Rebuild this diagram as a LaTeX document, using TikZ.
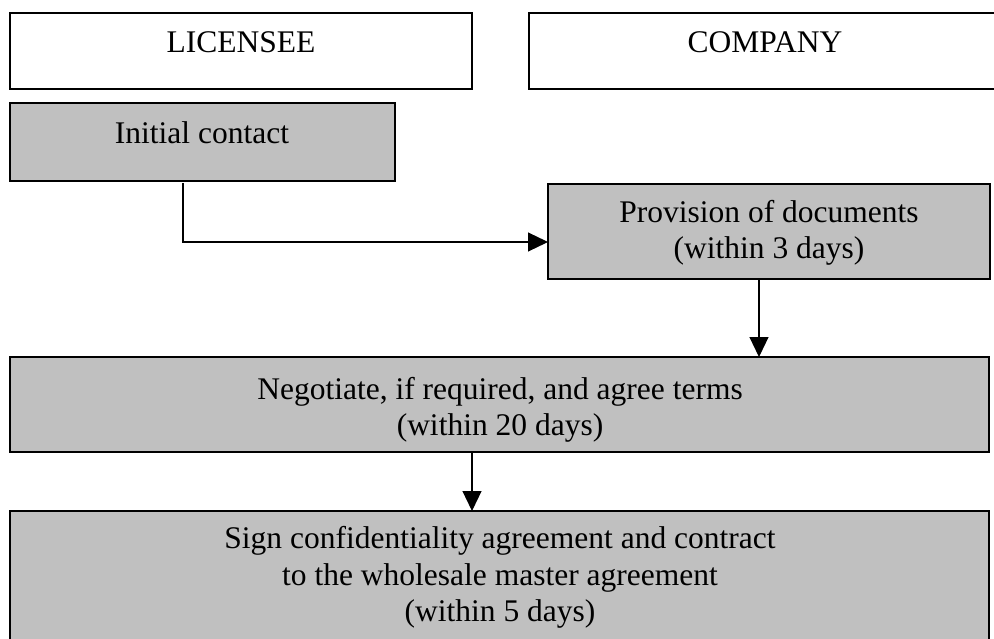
\documentclass[tikz,border=0pt]{standalone}
\usepackage{fontspec}
\setmainfont{Liberation Serif}
\usetikzlibrary{arrows.meta}
\definecolor{boxgray}{HTML}{C0C0C0}
\begin{document}
\begin{tikzpicture}[x=1pt,y=-1pt,
  box/.style={draw, line width=1.8pt, inner sep=0pt, outer sep=0pt, anchor=north west},
  gbox/.style={box, fill=boxgray},
  txt/.style={inner sep=0pt, anchor=base, font=\fontsize{31.5}{36}\selectfont},
  conn/.style={line width=1.2pt, -{Triangle[length=20pt,width=19pt]}}]
\useasboundingbox (0,0) rectangle (994,639);
\fill[white] (0,0) rectangle (994,639);
% boxes
\node[box, minimum width=462pt, minimum height=76pt] (lic) at (10,13) {};
\node[box, minimum width=472pt, minimum height=76pt] (comp) at (529,13) {};
\node[gbox, minimum width=385pt, minimum height=78pt] (ic) at (10,103) {};
\node[gbox, minimum width=442pt, minimum height=95pt] (prov) at (548,184) {};
\node[gbox, minimum width=979pt, minimum height=95pt] (neg) at (10,357) {};
\node[gbox, minimum width=979pt, minimum height=150pt] (sign) at (10,511) {};
% texts
\node[txt] (tlic) at (241,53) {LICENSEE};
\node[txt] (tcomp) at (765,53) {COMPANY};
\node[txt] (tic) at (202,144) {Initial contact};
\node[txt] (tp1) at (769,223) {Provision of documents};
\node[txt] (tp2) at (769,259) {(within 3 days)};
\node[txt] (tn1) at (500,399) {Negotiate, if required, and agree terms};
\node[txt] (tn2) at (500,435) {(within 20 days)};
\node[txt] (ts1) at (500,548) {Sign confidentiality agreement and contract};
\node[txt] (ts2) at (500,585) {to the wholesale master agreement};
\node[txt] (ts3) at (500,621) {(within 5 days)};
% connectors
\coordinate (c1) at (183,242);
\coordinate (c2) at (759,0);
\coordinate (c3) at (472,0);
\draw[conn] ([yshift=-2pt]ic.south -| c1) -- (c1) -- (prov.west |- c1);
\draw[conn] (prov.south -| c2) -- (neg.north -| c2);
\draw[conn] (neg.south -| c3) -- (sign.north -| c3);
\end{tikzpicture}
\end{document}
